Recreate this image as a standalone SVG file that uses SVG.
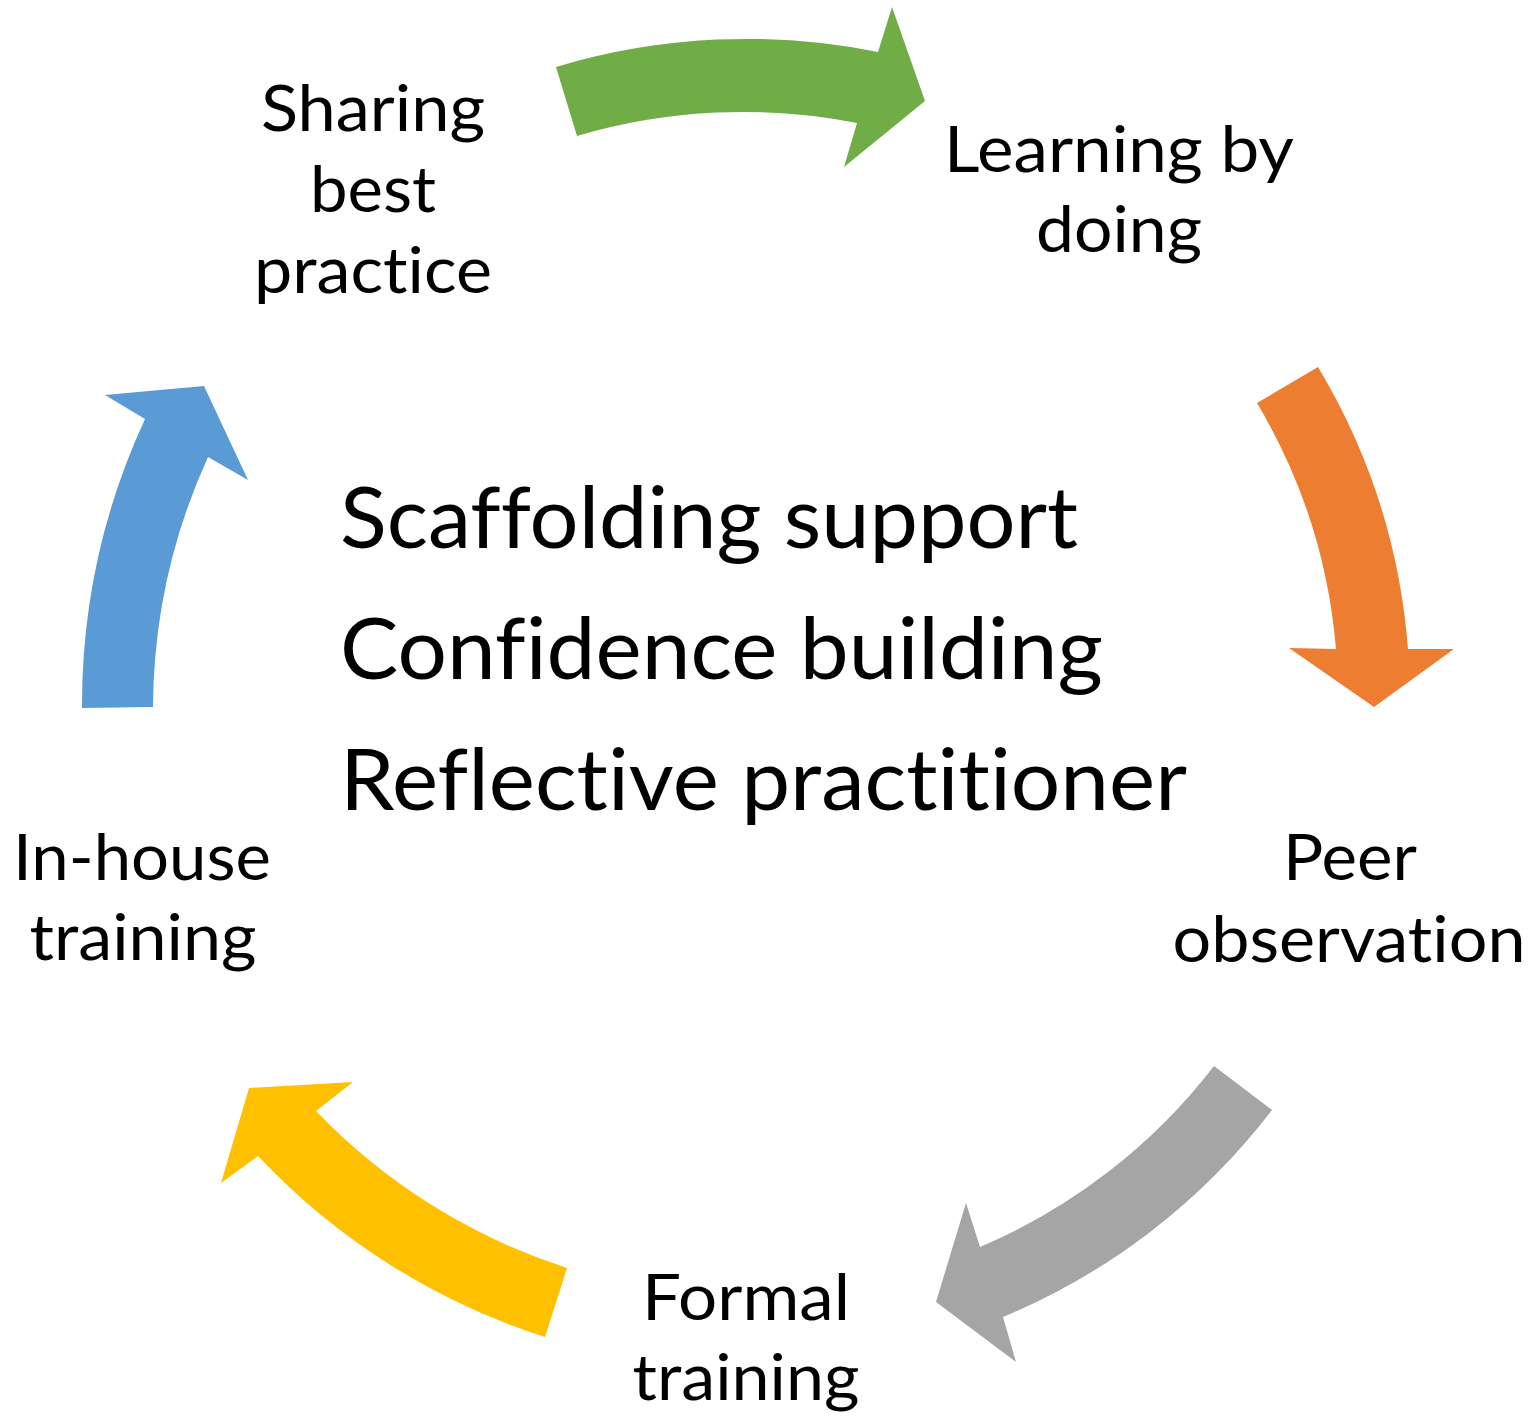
<svg xmlns="http://www.w3.org/2000/svg" width="1529" height="1418" viewBox="0 0 1529 1418">
<style>
.lbl{font-family:Lato,"Liberation Sans",sans-serif;font-size:64px;fill:#000;text-anchor:middle;font-variant-ligatures:none;font-feature-settings:"liga" 0,"dlig" 0}
.ctr{font-family:Lato,"Liberation Sans",sans-serif;font-size:85px;fill:#000;font-variant-ligatures:none;font-feature-settings:"liga" 0,"dlig" 0}
</style>
<rect width="1529" height="1418" fill="#fff"/>
<g id="connectors">
<path id="arrow-green" fill="#70AD47" d="M556,67 A662,662 0 0 1 878,52 L892,7 L925,101 L844,167 L857,123 A589,589 0 0 0 577,136 Z"/>
<path id="arrow-orange" fill="#ED7D31" d="M1318,367 A645,645 0 0 1 1408,649 L1454,649 L1374,707 L1289,648 L1336,649 A574,574 0 0 0 1257,403 Z"/>
<path id="arrow-gray" fill="#A5A5A5" d="M1272,1110 A656,656 0 0 1 1003,1317 L1016,1362 L936,1302 L966,1203 L980,1247 A583,583 0 0 0 1214,1066 Z"/>
<path id="arrow-yellow" fill="#FFC000" d="M545,1337 A678,678 0 0 1 258,1156 L221,1183 L249,1088 L353,1082 L316,1111 A605,605 0 0 0 567,1268 Z"/>
<path id="arrow-blue" fill="#5B9BD5" d="M82,708 A682,682 0 0 1 145,419 L105,395 L204,386 L248,480 L208,457 A610,610 0 0 0 153,707 Z"/>
</g>
<g id="node-sharing">
<text class="lbl" x="373" y="131" textLength="224" lengthAdjust="spacingAndGlyphs">Sharing</text>
<text class="lbl" x="373" y="212" textLength="126" lengthAdjust="spacingAndGlyphs">best</text>
<text class="lbl" x="373" y="293" textLength="238" lengthAdjust="spacingAndGlyphs">practice</text>
</g>
<g id="node-learning">
<text class="lbl" x="1119" y="172" textLength="350" lengthAdjust="spacingAndGlyphs">Learning by</text>
<text class="lbl" x="1119" y="252" textLength="166" lengthAdjust="spacingAndGlyphs">doing</text>
</g>
<g id="node-peer">
<text class="lbl" x="1350" y="880" textLength="134" lengthAdjust="spacingAndGlyphs">Peer</text>
<text class="lbl" x="1349" y="962" textLength="353" lengthAdjust="spacingAndGlyphs">observation</text>
</g>
<g id="node-formal">
<text class="lbl" x="746" y="1320" textLength="208" lengthAdjust="spacingAndGlyphs">Formal</text>
<text class="lbl" x="746" y="1400" textLength="227" lengthAdjust="spacingAndGlyphs">training</text>
</g>
<g id="node-inhouse">
<text class="lbl" x="142" y="880" textLength="258" lengthAdjust="spacingAndGlyphs">In-house</text>
<text class="lbl" x="143" y="960" textLength="227" lengthAdjust="spacingAndGlyphs">training</text>
</g>
<g id="center">
<text class="ctr" x="340" y="548" textLength="738" lengthAdjust="spacingAndGlyphs">Scaffolding support</text>
<text class="ctr" x="340" y="679" textLength="763" lengthAdjust="spacingAndGlyphs">Confidence building</text>
<text class="ctr" x="340" y="810" textLength="847" lengthAdjust="spacingAndGlyphs">Reflective practitioner</text>
</g>
</svg>
